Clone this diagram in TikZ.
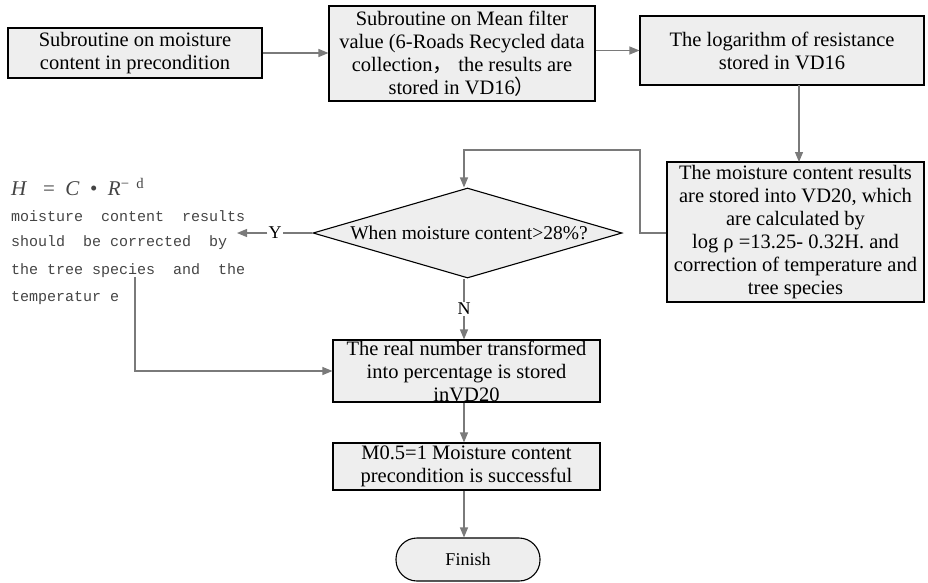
\documentclass[tikz,border=0pt]{standalone}
\usepackage{fontspec}
\setmainfont{Liberation Serif}
\newfontfamily\monofnt{Liberation Mono}
\newfontfamily\cjk{Noto Sans CJK SC}
\usetikzlibrary{arrows.meta,shapes.geometric}
\definecolor{boxfill}{HTML}{EEEEEE}
\definecolor{linegray}{HTML}{7A7A7A}
\definecolor{textgray}{HTML}{444444}
\begin{document}
\begin{tikzpicture}[x=1pt,y=-1pt,
  procbox/.style={draw=black,line width=1.1pt,fill=boxfill,inner sep=0pt,align=center,
    font=\fontsize{20.5}{23}\selectfont},
  conn/.style={draw=linegray,line width=1.1pt,-{Triangle[length=10pt,width=8pt]}},
  plain/.style={draw=linegray,line width=1.1pt},
  lbl/.style={font=\fontsize{18}{18}\selectfont,inner sep=1pt,fill=white},
  sidetxt/.style={anchor=west,inner sep=0pt,text=textgray,font=\monofnt\fontsize{15}{18}\selectfont}]
\useasboundingbox (0,0) rectangle (928,582);
\node[procbox,minimum width=254pt,minimum height=50pt] (b1) at (135,53) {Subroutine on moisture\\content in precondition};
\node[procbox,minimum width=266pt,minimum height=95pt] (b2) at (462,53.5) {Subroutine on Mean filter\\value (6-Roads Recycled data\\collection{\cjk ，}\ the results are\\stored in VD16{\cjk ）}};
\node[procbox,minimum width=284pt,minimum height=69pt] (b3) at (782,50.5) {The logarithm of resistance\\stored in VD16};
\node[procbox,minimum width=257pt,minimum height=140pt] (b4) at (795.5,232) {The moisture content results\\are stored into VD20, which\\are calculated by\\log ρ =13.25- 0.32H. and\\correction of temperature and\\tree species};
\node[diamond,draw=black,line width=1.1pt,fill=boxfill,aspect=3.43,minimum width=309pt,minimum height=90pt,inner sep=0pt] (d) at (467.5,233) {};
\node[font=\fontsize{19.5}{22}\selectfont,inner sep=0pt] (dt) at (469,233) {When moisture content>28\%?};
\node[procbox,minimum width=267pt,minimum height=62pt] (b5) at (466.5,371) {The real number transformed\\into percentage is stored\\inVD20};
\node[procbox,minimum width=267pt,minimum height=47pt] (b6) at (466.5,466.5) {M0.5=1 Moisture content\\precondition is successful};
\node[draw=black,line width=1.1pt,fill=boxfill,minimum width=144pt,minimum height=43pt,rounded corners=21pt,inner sep=0pt,font=\fontsize{18}{20}\selectfont] (fin) at (468,559.5) {Finish};
% side text
\node[anchor=west,inner sep=0pt,text=textgray,font=\fontsize{21}{24}\selectfont] (f) at (11,187) {\textit{H}\ \ \ =\ \ \textit{C}\ \ •\ \ \textit{R}\textsuperscript{−\ \ d}};
\node[sidetxt] (s1) at (11,216) {moisture\ \ content\ \ results};
\node[sidetxt] (s2) at (11,243) {should\ \ be corrected\ \ by};
\node[sidetxt] (s3) at (11,271) {the tree species\ \ and\ \ the};
\node[sidetxt] (s4) at (11,298) {temperatur e};
\coordinate (sbot) at (135,277);
% connectors
\draw[conn] (b1.east) -- (b2.west |- b1.east);
\draw[conn] (b2.east |- b3.west) -- (b3.west);
\draw[conn] (799,85) -- (799,162);
\coordinate (lp1) at (640,233);
\coordinate (lp2) at (640,150);
\coordinate (lp3) at (464,150);
\draw[conn] (b4.west |- lp1) -- (lp1) -- (lp2) -- (lp3) -- (d.north -| lp3);
\node[lbl] (ylab) at (275,233) {Y};
\coordinate (yend) at (237,233);
\draw[plain] (d.west) -- (ylab.east);
\draw[conn] (ylab.west) -- (yend);
\node[lbl] (nlab) at (464,309) {N};
\draw[plain] (d.south -| nlab) -- (nlab.north);
\draw[conn] (nlab.south) -- (b5.north -| nlab);
\draw[conn] (sbot) -- (135,371) -- (b5.west);
\draw[conn] (b5.south -| nlab) -- (b6.north -| nlab);
\draw[conn] (b6.south -| nlab) -- (fin.north -| nlab);
\end{tikzpicture}
\end{document}
